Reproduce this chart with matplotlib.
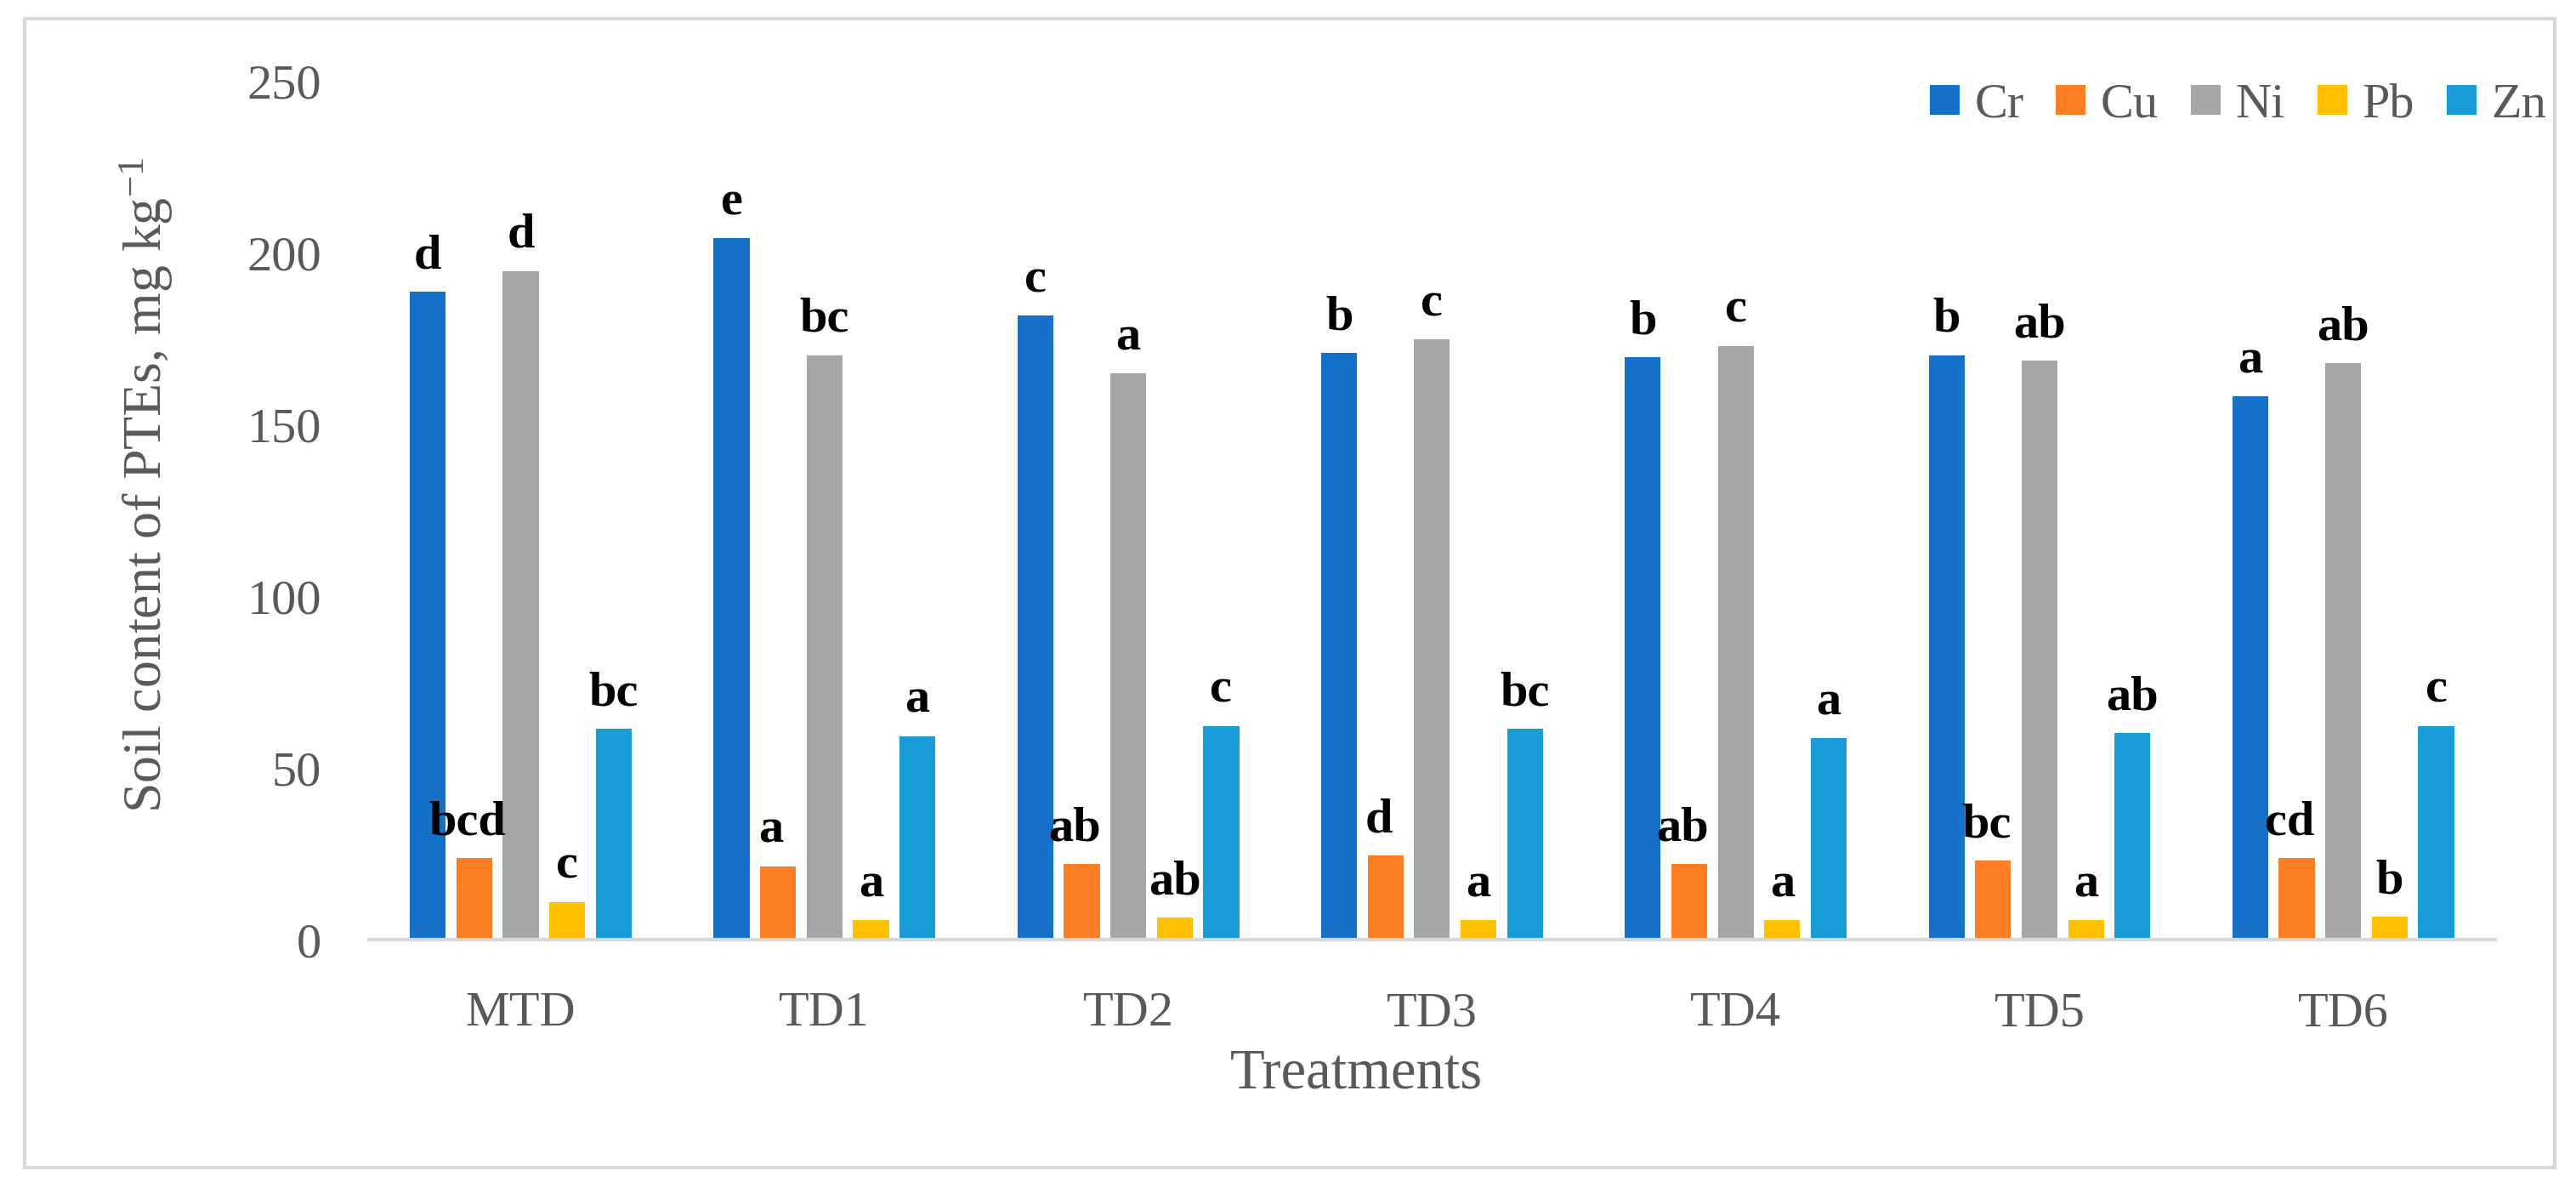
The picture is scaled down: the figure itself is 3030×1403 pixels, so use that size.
import matplotlib
matplotlib.use("Agg")
import matplotlib.pyplot as plt
import numpy as np
from matplotlib.patches import Rectangle

# data
treatments = ["MTD", "TD1", "TD2", "TD3", "TD4", "TD5", "TD6"]
metals = ["Cr", "Cu", "Ni", "Pb", "Zn"]
cr = [188.7, 204.3, 181.9, 171.0, 169.6, 170.3, 158.3]
cu = [23.8, 21.4, 22.1, 24.5, 22.1, 23.0, 23.8]
ni = [194.8, 170.3, 164.9, 174.8, 173.0, 168.7, 168.0]
pb = [11.0, 5.7, 6.4, 5.7, 5.7, 5.7, 6.6]
zn = [61.4, 59.3, 62.3, 61.4, 58.6, 60.2, 62.3]

# significance letters above each bar
cr_letters = ["d", "e", "c", "b", "b", "b", "a"]
cu_letters = ["bcd", "a", "ab", "d", "ab", "bc", "cd"]
ni_letters = ["d", "bc", "a", "c", "c", "ab", "ab"]
pb_letters = ["c", "a", "ab", "a", "a", "a", "b"]
zn_letters = ["bc", "a", "c", "bc", "a", "ab", "c"]

colors = ["#1570c8", "#fd7e23", "#a6a6a6", "#ffc000", "#199bd7"]


def main():
    plt.rcParams["font.family"] = ["Liberation Serif", "DejaVu Serif"]
    plt.rcParams["mathtext.fontset"] = "custom"
    plt.rcParams["mathtext.rm"] = "Liberation Serif"
    plt.rcParams["mathtext.it"] = "Liberation Serif:italic"

    fig = plt.figure(figsize=(15.15, 7.015), dpi=200)
    ax = fig.add_axes([0.1432, 0.2124, 0.8254, 0.7192])

    values = [cr, cu, ni, pb, zn]
    letters = [cr_letters, cu_letters, ni_letters, pb_letters, zn_letters]
    x = np.arange(len(treatments))
    pitch = 0.153
    width = 0.118

    for i, (vals, name, col, labs) in enumerate(zip(values, metals, colors, letters)):
        pos = x + (i - 2) * pitch
        ax.bar(pos, vals, width, color=col, label=name, zorder=2)
        for px, v, lab in zip(pos, vals, labs):
            # the long Cu labels sit a little to the left in the original
            dx = -3 if i == 1 else 0
            ax.annotate(lab, (px, v), xytext=(dx, 10), textcoords="offset points",
                        ha="center", va="baseline", fontsize=21,
                        fontweight="bold", color="black", zorder=3)

    ax.set_xlim(-0.5, 6.5)
    ax.set_ylim(0, 250)
    ax.set_yticks(range(0, 251, 50))
    ax.set_xticks(x)
    ax.set_xticklabels(treatments)

    for side in ["top", "right", "left"]:
        ax.spines[side].set_visible(False)
    ax.spines["bottom"].set_color("#d9d9d9")
    ax.spines["bottom"].set_linewidth(1.5)
    ax.spines["bottom"].set_zorder(3)

    ax.tick_params(axis="both", length=0, colors="#595959", labelsize=21)
    ax.tick_params(axis="x", pad=22)
    ax.tick_params(axis="y", pad=20)

    fig.text(172 / 3030, 1 - 570 / 1403, r"Soil content of PTEs, mg kg$^{-1}$",
             rotation=90, ha="center", va="center", fontsize=23, color="#595959")
    fig.text(1595 / 3030, 1 - 1263 / 1403, "Treatments",
             ha="center", va="center", fontsize=24, color="#595959")

    leg = fig.legend(loc="center right", bbox_to_anchor=(2995 / 3030, 1 - 124 / 1403),
                     ncol=5, frameon=False, fontsize=21, handlelength=0.6,
                     handleheight=0.55, handletextpad=0.3, columnspacing=0.65,
                     borderaxespad=0, borderpad=0)
    for t in leg.get_texts():
        t.set_color("#595959")

    # light grey frame around the whole figure
    fig.patches.append(Rectangle((29 / 3030, 1 - 1373 / 1403), 2976 / 3030, 1351 / 1403,
                                 transform=fig.transFigure, fill=False,
                                 edgecolor="#d9d9d9", linewidth=1.5))

    fig.savefig("out.png", dpi=200, facecolor="white")


if __name__ == "__main__":
    main()
